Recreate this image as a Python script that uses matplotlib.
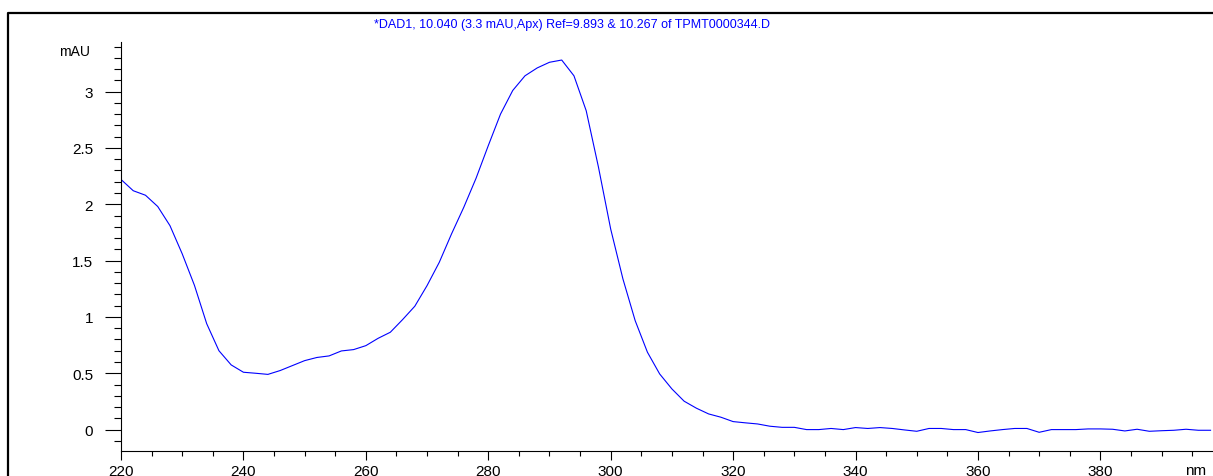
import numpy as np
import matplotlib
matplotlib.use("Agg")
import matplotlib.pyplot as plt
from matplotlib.lines import Line2D
from matplotlib.ticker import MultipleLocator

plt.rcParams["font.family"] = ["Liberation Sans", "DejaVu Sans"]

# spectrum, 2 nm steps
wavelength = list(range(220, 400, 2))
absorbance = [2.22, 2.12, 2.08, 1.98, 1.81, 1.56, 1.28, 0.94, 0.70, 0.574,
              0.509, 0.50, 0.49, 0.524, 0.568, 0.612, 0.64, 0.654, 0.698, 0.71,
              0.745, 0.81, 0.864, 0.976, 1.095, 1.278, 1.485, 1.737, 1.973, 2.23,
              2.52, 2.80, 3.01, 3.14, 3.21, 3.26, 3.28, 3.14, 2.83, 2.33,
              1.78, 1.337, 0.967, 0.687, 0.494, 0.361, 0.252, 0.19, 0.139, 0.11,
              0.071, 0.06, 0.05, 0.03, 0.02, 0.02, 0.0, 0.0, 0.01, 0.0,
              0.018, 0.01, 0.018, 0.01, -0.003, -0.015, 0.01, 0.01, 0.0, 0.0,
              -0.026, -0.012, 0.0, 0.01, 0.01, -0.024, 0.0, 0.0, 0.0, 0.006,
              0.006, 0.003, -0.012, 0.003, -0.015, -0.01, -0.006, 0.003, -0.006, -0.006]

xticks = [220, 240, 260, 280, 300, 320, 340, 360, 380]
xtick_labels = ["220", "240", "260", "280", "300", "320", "340", "360", "380"]
yticks = [0, 0.5, 1, 1.5, 2, 2.5, 3]
ytick_labels = ["0", "0.5", "1", "1.5", "2", "2.5", "3"]

title = "*DAD1, 10.040 (3.3 mAU,Apx) Ref=9.893 & 10.267 of TPMT0000344.D"

W, H = 1213, 477
fig = plt.figure(figsize=(W / 100, H / 100), dpi=100)
ax = fig.add_axes([121 / W, 1 - 452 / H, 1 - 121 / W, (452 - 43) / H])

ax.plot(wavelength, absorbance, color="#0000ff", lw=0.8)

ax.set_xlim(220, 398.4)
ax.set_ylim(-0.19, 3.44)
ax.set_xticks(xticks)
ax.set_xticklabels(xtick_labels)
ax.set_yticks(yticks)
ax.set_yticklabels(ytick_labels)
ax.xaxis.set_minor_locator(MultipleLocator(5))
ax.yaxis.set_minor_locator(MultipleLocator(0.1))

for s in ["top", "right"]:
    ax.spines[s].set_visible(False)
for s in ["left", "bottom"]:
    ax.spines[s].set_linewidth(0.8)

ax.tick_params(axis="x", which="major", direction="out", length=6.5, width=0.8,
               labelsize=11, pad=3)
ax.tick_params(axis="x", which="minor", direction="out", length=3.6, width=0.8)
ax.tick_params(axis="y", which="major", direction="out", length=11.5, width=0.8,
               labelsize=11, pad=8.5)
ax.tick_params(axis="y", which="minor", direction="out", length=5, width=0.8)

fig.text(572 / W, 1 - 25 / H, title, color="#0000ff", fontsize=9,
         ha="center", va="center")
fig.text(90 / W, 1 - 52 / H, "mAU", fontsize=10, ha="right", va="center")
fig.text(1185 / W, 1 - 471 / H, "nm", fontsize=11, ha="left", va="center")

# outer frame (left and top)
fig.add_artist(Line2D([8.3 / W, 8.3 / W, 1.01], [-0.01, 1 - 13.8 / H, 1 - 13.8 / H],
                      transform=fig.transFigure, color="black", lw=1.6))

fig.savefig("out.png", dpi=100)
